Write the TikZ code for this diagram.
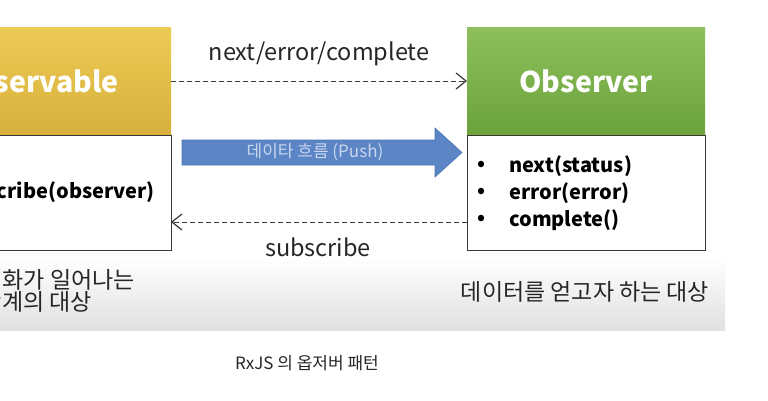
\documentclass[tikz,border=0pt]{standalone}
\usepackage{fontspec}
\setmainfont{Noto Sans CJK KR}
\usetikzlibrary{arrows.meta}
\definecolor{ylwTop}{HTML}{EDCB55}
\definecolor{ylwBot}{HTML}{D7B03C}
\definecolor{grnTop}{HTML}{8DC05C}
\definecolor{grnBot}{HTML}{6BA23A}
\definecolor{pushBlue}{HTML}{5B85C5}
\definecolor{pushEdge}{HTML}{4C75B2}
\definecolor{pushText}{HTML}{C9D7EE}
\definecolor{txtDark}{HTML}{262626}
\definecolor{lineGray}{HTML}{383838}
\definecolor{bandBot}{HTML}{E0E0E0}
\tikzset{
  headbox/.style={minimum width=238pt, minimum height=108pt, inner sep=0pt, outer sep=0pt},
  headtxt/.style={text=white, font=\bfseries\fontsize{28.5}{32}\selectfont, inner sep=0pt},
  bodybox/.style={draw=lineGray, line width=0.9pt, fill=white, minimum width=238pt,
    minimum height=115pt, inner sep=0pt, outer sep=0pt},
  msgline/.style={draw=lineGray, line width=1pt, dash pattern=on 5pt off 3pt,
    -{Straight Barb[length=10pt,width=16pt,line width=1.2pt]}},
  lbl/.style={text=txtDark, font=\fontsize{23.5}{27}\selectfont, inner sep=0pt},
  mth/.style={text=black, font=\bfseries\fontsize{20}{23}\selectfont, inner sep=0pt, anchor=west},
  bul/.style={text=black, font=\bfseries\fontsize{20}{23}\selectfont, inner sep=0pt},
  kor/.style={text=txtDark, font=\fontsize{23}{27}\selectfont, inner sep=0pt}
}
\begin{document}
\begin{tikzpicture}[x=1pt,y=-1pt]
\useasboundingbox (0,0) rectangle (768,400);
\clip (0,0) rectangle (768,400);
% gray band
\shade[top color=white, bottom color=bandBot] (-2,258) rectangle (725,330);
% observable
\shade[top color=ylwTop, bottom color=ylwBot] (-67,27) rectangle (171,135);
\node[headbox] (obsvHead) at (52,81) {};
\node[headtxt, anchor=east] (obsvTitle) at (119,81) {Observable};
\node[bodybox] (obsvBody) at (52,192.5) {};
\node[bul, anchor=east] (obsvSub) at (155,192) {subscribe(observer)};
% observer
\shade[top color=grnTop, bottom color=grnBot] (467,27) rectangle (705,135);
\node[headbox] (obsrHead) at (586,81) {};
\node[headtxt] (obsrTitle) at (586,81) {Observer};
\node[bodybox] (obsrBody) at (586,192.5) {};
\node[bul] (b1) at (481,166) {•};
\node[bul] (b2) at (481,193) {•};
\node[bul] (b3) at (481,220) {•};
\node[mth] (m1) at (509,166) {next(status)};
\node[mth] (m2) at (509,193) {error(error)};
\node[mth] (m3) at (509,220) {complete()};
% connectors
\draw[msgline] (obsvHead.east) -- (obsrHead.west);
\node[lbl] (lblTop) at (319,54) {next/error/complete};
\draw[msgline] ([yshift=28pt]obsrBody.south west) -- ([yshift=28pt]obsvBody.south east);
\node[lbl] (lblBot) at (318,247) {subscribe};
% push arrow
\draw[fill=pushBlue, draw=pushEdge, line width=0.6pt]
  (182,140) -- (435,140) -- (435,128) -- (462,152.5) -- (435,177) -- (435,165) -- (182,165) -- cycle;
\node[text=pushText, font=\fontsize{17}{20}\selectfont, inner sep=0pt] (pushLbl) at (315,152) {데이타 흐름 (Push)};
% band texts
\node[kor, anchor=east] (kl1) at (135,280) {변화가 일어나는};
\node[kor, anchor=east] (kl2) at (92,302) {단계의 대상};
\node[kor] (kr) at (585,292) {데이터를 얻고자 하는 대상};
% caption
\node[text=txtDark, font=\fontsize{17}{20}\selectfont, inner sep=0pt] (cap) at (307,363) {RxJS 의 옵저버 패턴};
\end{tikzpicture}
\end{document}
